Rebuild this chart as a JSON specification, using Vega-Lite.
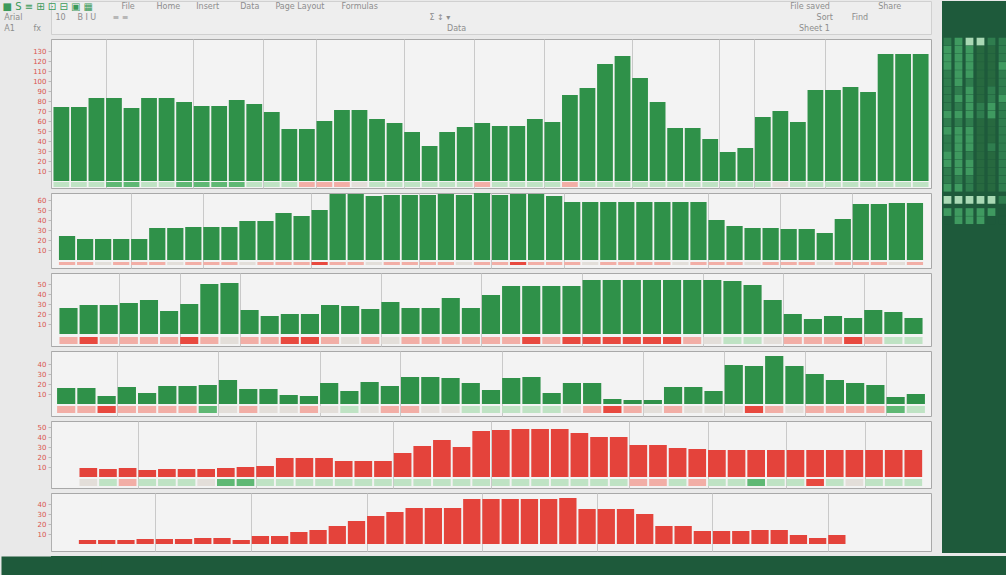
{
  "$schema": "https://vega.github.io/schema/vega-lite/v6.json",
  "background": "#e9e9e9",
  "padding": 0,
  "config": {"font": "DejaVu Sans", "view": {"fill": "#f3f3f3", "stroke": "#a8a8a8"}, "axis": {"labelFont": "DejaVu Sans"}},
  "spacing": 3,
  "resolve": {"scale": {"x": "independent", "y": "independent", "color": "independent"}},
  "vconcat": [
    {
      "spacing": 10,
      "resolve": {"scale": {"x": "independent", "y": "independent", "color": "independent"}},
      "hconcat": [
        {
          "spacing": 3,
          "resolve": {"scale": {"x": "independent", "y": "independent", "color": "independent"}},
          "vconcat": [
            {
              "width": 880, "height": 33,
              "view": {"fill": "#eeeeee", "stroke": "#d0d0d0"},
              "data": {"values": [
                {"r": 0, "p": -5.5, "t": "■ S ≡ ⊞ ⊡ ⊟ ▣ ▦", "k": "icon"},
                {"r": 0, "p": 8, "t": "File", "k": "word"},
                {"r": 0, "p": 12, "t": "Home", "k": "word"},
                {"r": 0, "p": 16.5, "t": "Insert", "k": "word"},
                {"r": 0, "p": 21.5, "t": "Data", "k": "word"},
                {"r": 0, "p": 25.5, "t": "Page Layout", "k": "word"},
                {"r": 0, "p": 33, "t": "Formulas", "k": "word"},
                {"r": 0, "p": 84, "t": "File saved", "k": "word"},
                {"r": 0, "p": 94, "t": "Share", "k": "word"},
                {"r": 1, "p": -5.3, "t": "Arial", "k": "word"},
                {"r": 1, "p": 0.5, "t": "10", "k": "word"},
                {"r": 1, "p": 3, "t": "B I U", "k": "word"},
                {"r": 1, "p": 7, "t": "≡ ≡", "k": "word"},
                {"r": 1, "p": 43, "t": "Σ  ↕  ▾", "k": "word"},
                {"r": 1, "p": 87, "t": "Sort", "k": "word"},
                {"r": 1, "p": 91, "t": "Find", "k": "word"},
                {"r": 2, "p": -5.3, "t": "A1", "k": "word"},
                {"r": 2, "p": -2, "t": "fx", "k": "word"},
                {"r": 2, "p": 45, "t": "Data", "k": "word"},
                {"r": 2, "p": 85, "t": "Sheet 1", "k": "word"}
              ]},
              "encoding": {
                "x": {"field": "p", "type": "quantitative", "scale": {"domain": [0, 100], "nice": false, "zero": false}, "axis": null},
                "y": {"field": "r", "type": "ordinal", "scale": {"domain": [0, 1, 2]}, "axis": {"labels": false, "ticks": false, "domain": false, "title": null, "minExtent": 50, "maxExtent": 50}},
                "text": {"field": "t", "type": "nominal"}
              },
              "layer": [
                {"transform": [{"filter": "datum.k == 'icon'"}], "mark": {"type": "text", "align": "left", "baseline": "middle", "fontSize": 10, "color": "#3c9a5a"}},
                {"transform": [{"filter": "datum.k == 'word'"}], "mark": {"type": "text", "align": "left", "baseline": "middle", "fontSize": 8, "color": "#8d8d8d"}}
              ]
            },
            {
              "width": 880, "height": 149,
              "resolve": {"axis": {"y": "independent"}},
              "data": {"values": [
                {"i":0,"v":74,"s":1},{"i":1,"v":74,"s":1},{"i":2,"v":83,"s":1},{"i":3,"v":83,"s":2},{"i":4,"v":73,"s":2},
                {"i":5,"v":83,"s":1},{"i":6,"v":83,"s":1},{"i":7,"v":79,"s":2},{"i":8,"v":75,"s":2},{"i":9,"v":75,"s":2},
                {"i":10,"v":81,"s":2},{"i":11,"v":77,"s":1},{"i":12,"v":69,"s":1},{"i":13,"v":52,"s":1},{"i":14,"v":52,"s":-1},
                {"i":15,"v":60,"s":-1},{"i":16,"v":71,"s":-1},{"i":17,"v":71,"s":0},{"i":18,"v":62,"s":1},{"i":19,"v":58,"s":1},
                {"i":20,"v":49,"s":1},{"i":21,"v":35,"s":1},{"i":22,"v":49,"s":1},{"i":23,"v":54,"s":1},{"i":24,"v":58,"s":-1},
                {"i":25,"v":55,"s":1},{"i":26,"v":55,"s":1},{"i":27,"v":62,"s":1},{"i":28,"v":59,"s":1},{"i":29,"v":86,"s":-1},
                {"i":30,"v":93,"s":1},{"i":31,"v":117,"s":1},{"i":32,"v":125,"s":1},{"i":33,"v":103,"s":1},{"i":34,"v":79,"s":1},
                {"i":35,"v":53,"s":1},{"i":36,"v":53,"s":1},{"i":37,"v":42,"s":1},{"i":38,"v":29,"s":1},{"i":39,"v":33,"s":1},
                {"i":40,"v":64,"s":1},{"i":41,"v":70,"s":0},{"i":42,"v":59,"s":1},{"i":43,"v":91,"s":1},{"i":44,"v":91,"s":1},
                {"i":45,"v":94,"s":1},{"i":46,"v":89,"s":1},{"i":47,"v":127,"s":1},{"i":48,"v":127,"s":1},{"i":49,"v":127,"s":1}
              ]},
              "layer": [
                {
                  "mark": {"type": "bar", "color": "#2f9149"},
                  "encoding": {
                    "x": {"field": "i", "type": "ordinal", "scale": {"paddingInner": 0.1, "paddingOuter": 0.14}, "axis": {"title": null, "labels": false, "ticks": false, "domain": false, "grid": true, "gridColor": "#c9c9c9", "bandPosition": 0, "values": [3,8,12,15,20,24,28,33,38,40,44], "minExtent": 0, "maxExtent": 0}},
                    "y": {"field": "v", "type": "quantitative", "scale": {"domain": [-7, 142], "nice": false, "zero": false}, "axis": {"title": null, "values": [10,20,30,40,50,60,70,80,90,100,110,120,130], "labelOverlap": false, "grid": false, "labelColor": "#d9534f", "labelFontSize": 7, "tickColor": "#bbbbbb", "tickSize": 3, "labelPadding": 2, "domainColor": "#b0b0b0", "minExtent": 50, "maxExtent": 50}},
                    "y2": {"datum": 0}
                  }
                },
                {
                  "transform": [{"filter": "isValid(datum.s)"}],
                  "mark": {"type": "rect"},
                  "encoding": {
                    "x": {"field": "i", "type": "ordinal"},
                    "y": {"datum": -1, "type": "quantitative", "axis": {"title": null, "labels": false, "ticks": false, "domain": false, "grid": false, "minExtent": 0, "maxExtent": 0}},
                    "y2": {"datum": -6},
                    "color": {"field": "s", "type": "ordinal", "scale": {"domain": [-2,-1,0,1,2], "range": ["#e8493f","#f2aea6","#e3ded9","#bfe3c4","#5fb874"]}, "legend": null}
                  }
                }
              ]
            },
            {
              "width": 880, "height": 75,
              "resolve": {"axis": {"y": "independent"}},
              "data": {"values": [
                {"i":0,"v":24,"s":-1},{"i":1,"v":21,"s":-1},{"i":2,"v":21,"s":0},{"i":3,"v":21,"s":-1},{"i":4,"v":21,"s":-1},
                {"i":5,"v":32,"s":-1},{"i":6,"v":32,"s":0},{"i":7,"v":33,"s":-1},{"i":8,"v":33,"s":-1},{"i":9,"v":33,"s":-1},
                {"i":10,"v":39,"s":0},{"i":11,"v":39,"s":-1},{"i":12,"v":47,"s":-1},{"i":13,"v":44,"s":-1},{"i":14,"v":50,"s":-2},
                {"i":15,"v":66,"s":-1},{"i":16,"v":66,"s":-1},{"i":17,"v":64,"s":0},{"i":18,"v":65,"s":-1},{"i":19,"v":65,"s":-1},
                {"i":20,"v":65,"s":-1},{"i":21,"v":66,"s":-1},{"i":22,"v":65,"s":0},{"i":23,"v":67,"s":-1},{"i":24,"v":65,"s":-1},
                {"i":25,"v":66,"s":-2},{"i":26,"v":66,"s":-1},{"i":27,"v":64,"s":-1},{"i":28,"v":58,"s":-1},{"i":29,"v":58,"s":0},
                {"i":30,"v":58,"s":-1},{"i":31,"v":58,"s":-1},{"i":32,"v":58,"s":-1},{"i":33,"v":58,"s":-1},{"i":34,"v":58,"s":0},
                {"i":35,"v":58,"s":-1},{"i":36,"v":40,"s":-1},{"i":37,"v":34,"s":-1},{"i":38,"v":32,"s":0},{"i":39,"v":32,"s":-1},
                {"i":40,"v":31,"s":-1},{"i":41,"v":31,"s":-1},{"i":42,"v":27,"s":0},{"i":43,"v":41,"s":-1},{"i":44,"v":56,"s":-1},
                {"i":45,"v":56,"s":-1},{"i":46,"v":57,"s":0},{"i":47,"v":57,"s":-1}
              ]},
              "layer": [
                {
                  "mark": {"type": "bar", "color": "#2f9149"},
                  "encoding": {
                    "x": {"field": "i", "type": "ordinal", "scale": {"paddingInner": 0.1, "paddingOuter": 0.44}, "axis": {"title": null, "labels": false, "ticks": false, "domain": false, "grid": true, "gridColor": "#c9c9c9", "bandPosition": 0, "values": [4,8,14,20,24,28,36,40,44], "minExtent": 0, "maxExtent": 0}},
                    "y": {"field": "v", "type": "quantitative", "scale": {"domain": [-8, 67], "nice": false, "zero": false}, "axis": {"title": null, "values": [10,20,30,40,50,60], "labelOverlap": false, "grid": false, "labelColor": "#d9534f", "labelFontSize": 7, "tickColor": "#bbbbbb", "tickSize": 3, "labelPadding": 2, "domainColor": "#b0b0b0", "minExtent": 50, "maxExtent": 50}},
                    "y2": {"datum": 0}
                  }
                },
                {
                  "transform": [{"filter": "isValid(datum.s)"}],
                  "mark": {"type": "rect"},
                  "encoding": {
                    "x": {"field": "i", "type": "ordinal"},
                    "y": {"datum": -2, "type": "quantitative", "axis": {"title": null, "labels": false, "ticks": false, "domain": false, "grid": false, "minExtent": 0, "maxExtent": 0}},
                    "y2": {"datum": -5},
                    "color": {"field": "s", "type": "ordinal", "scale": {"domain": [-2,-1,0,1,2], "range": ["#e8493f","#f2aea6","#e3ded9","#bfe3c4","#5fb874"]}, "legend": null}
                  }
                }
              ]
            },
            {
              "width": 880, "height": 73,
              "resolve": {"axis": {"y": "independent"}},
              "data": {"values": [
                {"i":0,"v":26,"s":-1},{"i":1,"v":29,"s":-2},{"i":2,"v":29,"s":-1},{"i":3,"v":31,"s":-1},{"i":4,"v":34,"s":-1},
                {"i":5,"v":23,"s":-1},{"i":6,"v":30,"s":-2},{"i":7,"v":50,"s":-1},{"i":8,"v":51,"s":0},{"i":9,"v":24,"s":-1},
                {"i":10,"v":18,"s":-1},{"i":11,"v":20,"s":-2},{"i":12,"v":20,"s":-2},{"i":13,"v":29,"s":-1},{"i":14,"v":28,"s":0},
                {"i":15,"v":25,"s":-1},{"i":16,"v":32,"s":0},{"i":17,"v":26,"s":-1},{"i":18,"v":26,"s":-1},{"i":19,"v":36,"s":-1},
                {"i":20,"v":26,"s":-1},{"i":21,"v":39,"s":-1},{"i":22,"v":48,"s":-1},{"i":23,"v":48,"s":-2},{"i":24,"v":48,"s":-1},
                {"i":25,"v":48,"s":-2},{"i":26,"v":54,"s":-2},{"i":27,"v":54,"s":-2},{"i":28,"v":54,"s":-2},{"i":29,"v":54,"s":-2},
                {"i":30,"v":54,"s":-2},{"i":31,"v":54,"s":-1},{"i":32,"v":54,"s":0},{"i":33,"v":53,"s":1},{"i":34,"v":49,"s":1},
                {"i":35,"v":34,"s":0},{"i":36,"v":20,"s":-1},{"i":37,"v":15,"s":-1},{"i":38,"v":18,"s":-1},{"i":39,"v":16,"s":-2},
                {"i":40,"v":24,"s":-1},{"i":41,"v":22,"s":1},{"i":42,"v":16,"s":1}
              ]},
              "layer": [
                {
                  "mark": {"type": "bar", "color": "#2f9149"},
                  "encoding": {
                    "x": {"field": "i", "type": "ordinal", "scale": {"paddingInner": 0.1, "paddingOuter": 0.42}, "axis": {"title": null, "labels": false, "ticks": false, "domain": false, "grid": true, "gridColor": "#c9c9c9", "bandPosition": 0, "values": [3,6,9,16,21,26,32,36,40], "minExtent": 0, "maxExtent": 0}},
                    "y": {"field": "v", "type": "quantitative", "scale": {"domain": [-12, 61], "nice": false, "zero": false}, "axis": {"title": null, "values": [10,20,30,40,50], "labelOverlap": false, "grid": false, "labelColor": "#d9534f", "labelFontSize": 7, "tickColor": "#bbbbbb", "tickSize": 3, "labelPadding": 2, "domainColor": "#b0b0b0", "minExtent": 50, "maxExtent": 50}},
                    "y2": {"datum": 0}
                  }
                },
                {
                  "transform": [{"filter": "isValid(datum.s)"}],
                  "mark": {"type": "rect"},
                  "encoding": {
                    "x": {"field": "i", "type": "ordinal"},
                    "y": {"datum": -3, "type": "quantitative", "axis": {"title": null, "labels": false, "ticks": false, "domain": false, "grid": false, "minExtent": 0, "maxExtent": 0}},
                    "y2": {"datum": -10},
                    "color": {"field": "s", "type": "ordinal", "scale": {"domain": [-2,-1,0,1,2], "range": ["#e8493f","#f2aea6","#e3ded9","#bfe3c4","#5fb874"]}, "legend": null}
                  }
                }
              ]
            },
            {
              "width": 880, "height": 65,
              "resolve": {"axis": {"y": "independent"}},
              "data": {"values": [
                {"i":0,"v":16,"s":-1},{"i":1,"v":16,"s":-1},{"i":2,"v":8,"s":-2},{"i":3,"v":17,"s":-1},{"i":4,"v":11,"s":-1},
                {"i":5,"v":18,"s":-1},{"i":6,"v":18,"s":-1},{"i":7,"v":19,"s":2},{"i":8,"v":24,"s":0},{"i":9,"v":15,"s":-1},
                {"i":10,"v":15,"s":0},{"i":11,"v":9,"s":0},{"i":12,"v":8,"s":-1},{"i":13,"v":21,"s":0},{"i":14,"v":13,"s":1},
                {"i":15,"v":22,"s":0},{"i":16,"v":18,"s":-1},{"i":17,"v":27,"s":-1},{"i":18,"v":27,"s":0},{"i":19,"v":26,"s":0},
                {"i":20,"v":21,"s":1},{"i":21,"v":14,"s":1},{"i":22,"v":26,"s":1},{"i":23,"v":27,"s":1},{"i":24,"v":11,"s":1},
                {"i":25,"v":21,"s":0},{"i":26,"v":21,"s":-1},{"i":27,"v":5,"s":-2},{"i":28,"v":4,"s":-1},{"i":29,"v":4,"s":0},
                {"i":30,"v":17,"s":-1},{"i":31,"v":17,"s":0},{"i":32,"v":13,"s":0},{"i":33,"v":39,"s":0},{"i":34,"v":38,"s":-2},
                {"i":35,"v":48,"s":-1},{"i":36,"v":38,"s":0},{"i":37,"v":30,"s":-1},{"i":38,"v":24,"s":-1},{"i":39,"v":21,"s":-1},
                {"i":40,"v":19,"s":-1},{"i":41,"v":7,"s":2},{"i":42,"v":10,"s":1}
              ]},
              "layer": [
                {
                  "mark": {"type": "bar", "color": "#2f9149"},
                  "encoding": {
                    "x": {"field": "i", "type": "ordinal", "scale": {"paddingInner": 0.1, "paddingOuter": 0.3}, "axis": {"title": null, "labels": false, "ticks": false, "domain": false, "grid": true, "gridColor": "#c9c9c9", "bandPosition": 0, "values": [3,8,13,17,22,29,33,37,41], "minExtent": 0, "maxExtent": 0}},
                    "y": {"field": "v", "type": "quantitative", "scale": {"domain": [-12, 53], "nice": false, "zero": false}, "axis": {"title": null, "values": [10,20,30,40], "labelOverlap": false, "grid": false, "labelColor": "#d9534f", "labelFontSize": 7, "tickColor": "#bbbbbb", "tickSize": 3, "labelPadding": 2, "domainColor": "#b0b0b0", "minExtent": 50, "maxExtent": 50}},
                    "y2": {"datum": 0}
                  }
                },
                {
                  "transform": [{"filter": "isValid(datum.s)"}],
                  "mark": {"type": "rect"},
                  "encoding": {
                    "x": {"field": "i", "type": "ordinal"},
                    "y": {"datum": -2, "type": "quantitative", "axis": {"title": null, "labels": false, "ticks": false, "domain": false, "grid": false, "minExtent": 0, "maxExtent": 0}},
                    "y2": {"datum": -9},
                    "color": {"field": "s", "type": "ordinal", "scale": {"domain": [-2,-1,0,1,2], "range": ["#e8493f","#f2aea6","#e3ded9","#bfe3c4","#5fb874"]}, "legend": null}
                  }
                }
              ]
            },
            {
              "width": 880, "height": 67,
              "resolve": {"axis": {"y": "independent"}},
              "data": {"values": [
                {"i":0,"v":0},{"i":1,"v":9,"s":0},{"i":2,"v":8,"s":1},{"i":3,"v":9,"s":-1},{"i":4,"v":7,"s":1},
                {"i":5,"v":8,"s":1},{"i":6,"v":8,"s":1},{"i":7,"v":8,"s":0},{"i":8,"v":9,"s":2},{"i":9,"v":10,"s":2},
                {"i":10,"v":11,"s":1},{"i":11,"v":19,"s":1},{"i":12,"v":19,"s":1},{"i":13,"v":19,"s":1},{"i":14,"v":16,"s":1},
                {"i":15,"v":16,"s":1},{"i":16,"v":16,"s":1},{"i":17,"v":24,"s":1},{"i":18,"v":31,"s":1},{"i":19,"v":37,"s":1},
                {"i":20,"v":30,"s":1},{"i":21,"v":46,"s":1},{"i":22,"v":47,"s":1},{"i":23,"v":48,"s":1},{"i":24,"v":48,"s":1},
                {"i":25,"v":48,"s":1},{"i":26,"v":44,"s":1},{"i":27,"v":40,"s":1},{"i":28,"v":40,"s":1},{"i":29,"v":32,"s":-1},
                {"i":30,"v":32,"s":-1},{"i":31,"v":29,"s":1},{"i":32,"v":28,"s":-1},{"i":33,"v":27,"s":1},{"i":34,"v":27,"s":1},
                {"i":35,"v":27,"s":2},{"i":36,"v":27,"s":1},{"i":37,"v":27,"s":1},{"i":38,"v":27,"s":-2},{"i":39,"v":27,"s":1},
                {"i":40,"v":27,"s":0},{"i":41,"v":27,"s":1},{"i":42,"v":27,"s":1},{"i":43,"v":27,"s":1}
              ]},
              "layer": [
                {
                  "mark": {"type": "bar", "color": "#e4433b"},
                  "encoding": {
                    "x": {"field": "i", "type": "ordinal", "scale": {"paddingInner": 0.1, "paddingOuter": 0.45}, "axis": {"title": null, "labels": false, "ticks": false, "domain": false, "grid": true, "gridColor": "#c9c9c9", "bandPosition": 0, "values": [4,10,17,22,29,33,37,41], "minExtent": 0, "maxExtent": 0}},
                    "y": {"field": "v", "type": "quantitative", "scale": {"domain": [-11, 56], "nice": false, "zero": false}, "axis": {"title": null, "values": [10,20,30,40,50], "labelOverlap": false, "grid": false, "labelColor": "#d9534f", "labelFontSize": 7, "tickColor": "#bbbbbb", "tickSize": 3, "labelPadding": 2, "domainColor": "#b0b0b0", "minExtent": 50, "maxExtent": 50}},
                    "y2": {"datum": 0}
                  }
                },
                {
                  "transform": [{"filter": "isValid(datum.s)"}],
                  "mark": {"type": "rect"},
                  "encoding": {
                    "x": {"field": "i", "type": "ordinal"},
                    "y": {"datum": -2, "type": "quantitative", "axis": {"title": null, "labels": false, "ticks": false, "domain": false, "grid": false, "minExtent": 0, "maxExtent": 0}},
                    "y2": {"datum": -9},
                    "color": {"field": "s", "type": "ordinal", "scale": {"domain": [-2,-1,0,1,2], "range": ["#e8493f","#f2aea6","#e3ded9","#bfe3c4","#5fb874"]}, "legend": null}
                  }
                }
              ]
            },
            {
              "width": 880, "height": 58,
              "data": {"values": [
                {"i":0,"v":0},{"i":1,"v":4},{"i":2,"v":4},{"i":3,"v":4},{"i":4,"v":5},{"i":5,"v":5},{"i":6,"v":5},{"i":7,"v":6},{"i":8,"v":6},{"i":9,"v":4},{"i":10,"v":8},
                {"i":11,"v":8},{"i":12,"v":12},{"i":13,"v":14},{"i":14,"v":18},{"i":15,"v":23},{"i":16,"v":28},{"i":17,"v":32},{"i":18,"v":36},{"i":19,"v":36},{"i":20,"v":36},
                {"i":21,"v":45},{"i":22,"v":45},{"i":23,"v":45},{"i":24,"v":45},{"i":25,"v":45},{"i":26,"v":46},{"i":27,"v":35},{"i":28,"v":35},{"i":29,"v":35},{"i":30,"v":30},
                {"i":31,"v":18},{"i":32,"v":18},{"i":33,"v":13},{"i":34,"v":13},{"i":35,"v":13},{"i":36,"v":14},{"i":37,"v":14},{"i":38,"v":9},{"i":39,"v":6},{"i":40,"v":9},
                {"i":41,"v":0},{"i":42,"v":0},{"i":43,"v":0},{"i":44,"v":0}
              ]},
              "mark": {"type": "bar", "color": "#e4433b"},
              "encoding": {
                "x": {"field": "i", "type": "ordinal", "scale": {"paddingInner": 0.1, "paddingOuter": 0.45}, "axis": {"title": null, "labels": false, "ticks": false, "domain": false, "grid": true, "gridColor": "#c9c9c9", "bandPosition": 0, "values": [5,10,16,22,28,34,40], "minExtent": 0, "maxExtent": 0}},
                "y": {"field": "v", "type": "quantitative", "scale": {"domain": [-7, 51], "nice": false, "zero": false}, "axis": {"title": null, "values": [10,20,30,40], "labelOverlap": false, "grid": false, "labelColor": "#d9534f", "labelFontSize": 7, "tickColor": "#bbbbbb", "tickSize": 3, "labelPadding": 2, "domainColor": "#b0b0b0", "minExtent": 50, "maxExtent": 50}},
                "y2": {"datum": 0}
              }
            }
          ]
        },
        {
          "width": 66, "height": 552,
          "view": {"fill": "#1e5a3b", "stroke": null},
          "data": {"values": [
            {"r":1,"a":2,"b":3,"c":4,"d":4,"e":2,"f":2},
            {"r":2,"a":3,"b":3,"c":3,"d":1,"e":1,"f":2},
            {"r":3,"a":3,"b":3,"c":3,"d":1,"e":1,"f":2},
            {"r":4,"a":3,"b":3,"c":3,"d":1,"e":1,"f":3},
            {"r":5,"a":2,"b":3,"c":3,"d":1,"e":1,"f":2},
            {"r":6,"a":2,"b":3,"c":2,"d":1,"e":1,"f":2},
            {"r":7,"a":2,"b":2,"c":3,"d":1,"e":2,"f":2},
            {"r":8,"a":2,"b":3,"c":3,"d":1,"e":2,"f":3},
            {"r":9,"a":2,"b":2,"c":3,"d":2,"e":3,"f":2},
            {"r":10,"a":3,"b":3,"c":3,"d":2,"e":3,"f":2},
            {"r":11,"a":2,"b":2,"c":2,"d":1,"e":1,"f":2},
            {"r":12,"a":3,"b":3,"c":3,"d":1,"e":1,"f":2},
            {"r":13,"a":2,"b":3,"c":3,"d":1,"e":1,"f":2},
            {"r":14,"a":2,"b":3,"c":3,"d":1,"e":2,"f":2},
            {"r":15,"a":3,"b":3,"c":2,"d":1,"e":1,"f":2},
            {"r":16,"a":3,"b":3,"c":3,"d":1,"e":1,"f":2},
            {"r":17,"a":2,"b":3,"c":3,"d":1,"e":1,"f":2},
            {"r":18,"a":2,"b":2,"c":2,"d":1,"e":1,"f":2},
            {"r":19,"a":3,"b":3,"c":2,"d":1,"e":1,"f":2},
            {"r":20.5,"a":4,"b":4,"c":4,"d":4,"e":4,"f":2},
            {"r":22,"a":3,"b":3,"c":3,"d":3,"e":3,"f":0},
            {"r":23,"a":0,"b":3,"c":3,"d":3,"e":0,"f":0}
          ]},
          "transform": [{"fold": ["a","b","c","d","e","f"], "as": ["col", "g"]}],
          "mark": {"type": "square", "size": 60, "opacity": 1},
          "encoding": {
            "x": {"field": "col", "type": "ordinal", "scale": {"paddingOuter": 0.2}, "axis": null},
            "y": {"field": "r", "type": "quantitative", "scale": {"domain": [-4, 64], "reverse": true, "nice": false, "zero": false}, "axis": null},
            "color": {"field": "g", "type": "ordinal", "scale": {"domain": [0,1,2,3,4], "range": ["#1e5a3b","#27693f","#2f7d4e","#3f9a60","#a9d9b4"]}, "legend": null}
          }
        }
      ]
    },
    {
      "width": 956, "height": 20,
      "view": {"fill": "#1e5a3b", "stroke": null},
      "mark": {"type": "rect", "color": "#1e5a3b"},
      "encoding": {
        "y": {"datum": 0, "type": "quantitative", "scale": {"domain": [0, 1], "nice": false}, "axis": {"title": null, "labels": false, "ticks": false, "grid": false, "domain": true, "domainColor": "#1e5a3b", "domainWidth": 100, "domainCap": "butt", "minExtent": 0, "maxExtent": 0}},
        "y2": {"datum": 1}
      }
    }
  ]
}
